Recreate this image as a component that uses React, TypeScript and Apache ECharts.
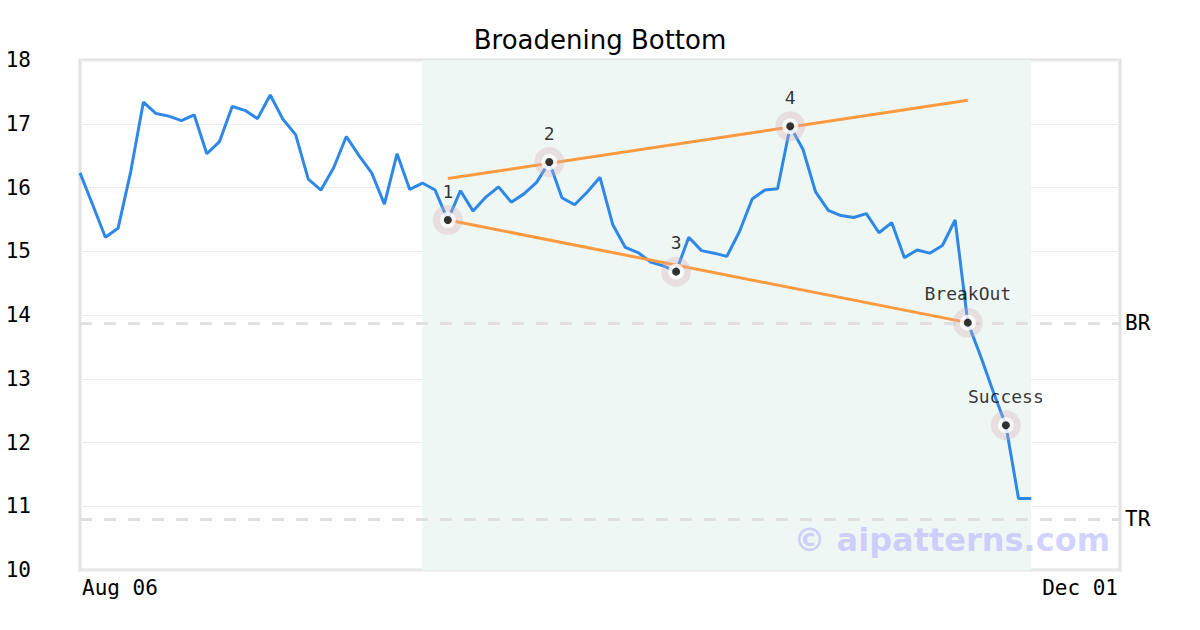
import React, { useEffect, useRef } from "react";
import * as echarts from "echarts";

const TITLE = "Broadening Bottom";
const X_LABELS = ["Aug 06", "Dec 01"];
const X_MAX = 82;
const PRICES = [
  16.23, 15.73, 15.22, 15.36, 16.25, 17.34, 17.16, 17.12, 17.05, 17.14,
  16.53, 16.72, 17.27, 17.21, 17.08, 17.45, 17.07, 16.83, 16.13, 15.96,
  16.31, 16.8, 16.5, 16.23, 15.74, 16.53, 15.97, 16.07, 15.96, 15.49,
  15.95, 15.63, 15.85, 16.01, 15.77, 15.9, 16.08, 16.4, 15.84, 15.73,
  15.93, 16.16, 15.42, 15.06, 14.98, 14.83, 14.77, 14.68, 15.22, 15.01,
  14.97, 14.92, 15.31, 15.82, 15.96, 15.98, 16.96, 16.6, 15.93, 15.64,
  15.56, 15.53, 15.59, 15.29, 15.45, 14.9, 15.02, 14.97, 15.09, 15.49,
  13.88, 13.36, 12.8, 12.27, 11.12, 11.12,
];
const PATTERN_RANGE = [27, 75];
const UPPER_LINE = [
  [29, 16.14],
  [70, 17.37],
];
const LOWER_LINE = [
  [29, 15.49],
  [70, 13.88],
];
const MARK_NAMES = ["1", "2", "3", "4", "BreakOut", "Success"];
const MARK_INDEX = [29, 37, 47, 56, 70, 73];
const LEVEL_NAMES = ["BR", "TR"];
const LEVEL_VALUES = [13.87, 10.8];
const WATERMARK = "© aipatterns.com";

const MONO = "DejaVu Sans Mono";
const SANS = "DejaVu Sans";

export default function App() {
  const ref = useRef<HTMLDivElement>(null);
  useEffect(() => {
    if (!ref.current) return;
    const chart = echarts.init(ref.current, null, { renderer: "svg" });
    const marks = MARK_INDEX.map((i, k) => ({
      name: MARK_NAMES[k],
      value: [i, PRICES[i]],
    }));
    chart.setOption({
      animation: false,
      backgroundColor: "#ffffff",
      title: {
        text: TITLE,
        left: "center",
        top: 22,
        textStyle: {
          fontFamily: SANS,
          fontSize: 26,
          fontWeight: "normal",
          color: "#000",
        },
      },
      grid: {
        left: 80,
        right: 80,
        top: 60,
        bottom: 60,
        show: true,
        borderColor: "#e2e2e2",
        borderWidth: 3,
        backgroundColor: "transparent",
      },
      xAxis: {
        type: "value",
        min: 0,
        max: X_MAX,
        interval: X_MAX,
        axisLine: { show: false },
        axisTick: { show: false },
        splitLine: { show: false },
        axisLabel: {
          fontFamily: MONO,
          fontSize: 21,
          color: "#000",
          margin: 7,
          padding: [0, 2, 0, 2],
          alignMinLabel: "left",
          alignMaxLabel: "right",
          formatter: (v: number) =>
            v === 0 ? X_LABELS[0] : v === X_MAX ? X_LABELS[1] : "",
        },
      },
      yAxis: {
        type: "value",
        min: 10,
        max: 18,
        interval: 1,
        axisLine: { show: false },
        axisTick: { show: false },
        splitLine: { lineStyle: { color: "#ebebeb", width: 1 } },
        axisLabel: {
          fontFamily: MONO,
          fontSize: 21,
          color: "#000",
          margin: 49,
        },
      },
      series: [
        {
          type: "line",
          data: PRICES.map((v, i) => [i, v]),
          showSymbol: false,
          lineStyle: { color: "#2e88e8", width: 3 },
          z: 3,
          markArea: {
            silent: true,
            itemStyle: { color: "#eff7f4" },
            data: [[{ xAxis: PATTERN_RANGE[0] }, { xAxis: PATTERN_RANGE[1] }]],
          },
          markLine: {
            silent: true,
            symbol: "none",
            lineStyle: { color: "#e0e0e0", width: 3, type: [12, 12] },
            label: {
              position: "end",
              distance: 5,
              fontFamily: MONO,
              fontSize: 21,
              color: "#000",
              formatter: (p: any) => p.name,
            },
            data: LEVEL_NAMES.map((n, k) => ({ name: n, yAxis: LEVEL_VALUES[k] })),
          },
        },
        {
          type: "line",
          data: UPPER_LINE,
          showSymbol: false,
          lineStyle: { color: "#fb9a40", width: 3 },
          z: 4,
        },
        {
          type: "line",
          data: LOWER_LINE,
          showSymbol: false,
          lineStyle: { color: "#fb9a40", width: 3 },
          z: 4,
        },
        {
          type: "scatter",
          data: marks,
          symbolSize: 30,
          itemStyle: { color: "rgba(214,170,182,0.4)" },
          z: 5,
        },
        {
          type: "scatter",
          data: marks,
          symbolSize: 16,
          itemStyle: { color: "#ffffff" },
          z: 6,
        },
        {
          type: "scatter",
          data: marks,
          symbolSize: 8,
          itemStyle: { color: "#000000" },
          z: 7,
          label: {
            show: true,
            position: "top",
            distance: 16,
            fontFamily: MONO,
            fontSize: 18,
            color: "#000000",
            formatter: (p: any) => p.name,
          },
        },
      ],
      graphic: [
        {
          type: "text",
          right: 90,
          top: 524,
          z: 10,
          style: {
            text: WATERMARK,
            fontFamily: SANS,
            fontSize: 32,
            fontWeight: "bold",
            fill: "rgba(190,190,255,0.7)",
          },
        },
      ],
    });
    return () => chart.dispose();
  }, []);
  return (
    <div
      ref={ref}
      style={{ position: "fixed", left: 0, top: 0, width: 1200, height: 630 }}
    />
  );
}
